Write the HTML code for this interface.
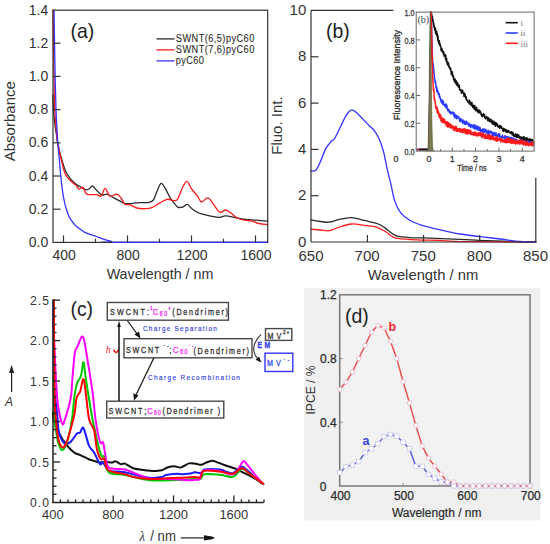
<!DOCTYPE html>
<html><head><meta charset="utf-8"><style>
html,body{margin:0;padding:0;background:#fff;width:550px;height:544px;overflow:hidden}
svg{display:block}
</style></head><body>
<svg width="550" height="544" viewBox="0 0 550 544">
<path d="M52.8,95.0 C52.9,97.5 53.1,105.0 53.5,110.0 C53.9,115.0 54.5,120.8 55.0,125.0 C55.5,129.2 56.0,131.8 56.5,135.0 C57.0,138.2 56.9,139.8 57.8,143.9 C58.7,148.0 60.4,154.8 61.7,159.3 C63.0,163.8 64.1,167.7 65.5,170.9 C66.9,174.1 68.7,176.5 70.3,178.6 C71.9,180.7 73.4,181.9 75.2,183.4 C77.0,184.9 79.1,186.2 81.0,187.3 C82.9,188.4 85.2,189.7 86.7,189.8 C88.2,189.9 89.0,188.7 90.0,188.0 C91.0,187.3 91.7,185.8 92.5,185.9 C93.3,186.0 94.2,187.6 95.0,188.5 C95.8,189.4 96.2,190.1 97.4,191.2 C98.6,192.3 100.6,194.5 102.2,195.0 C103.8,195.5 105.1,193.6 107.0,194.1 C108.9,194.6 111.4,196.6 113.8,197.9 C116.2,199.2 119.6,200.9 121.5,201.8 C123.4,202.8 123.5,203.3 125.0,203.6 C126.5,203.9 128.4,203.8 130.8,203.6 C133.2,203.4 136.6,202.8 139.5,202.6 C142.4,202.4 146.0,203.0 148.3,202.6 C150.6,202.2 152.0,201.9 153.4,200.0 C154.8,198.1 155.7,194.1 157.0,191.3 C158.3,188.5 159.7,183.7 161.1,183.3 C162.5,182.9 164.2,186.7 165.7,189.1 C167.2,191.5 168.6,195.4 170.1,197.8 C171.6,200.2 173.2,202.0 174.5,203.6 C175.8,205.2 176.7,206.8 178.1,207.3 C179.5,207.8 181.7,207.3 183.2,206.8 C184.7,206.3 185.9,204.1 187.3,204.4 C188.8,204.7 190.2,207.4 191.9,208.7 C193.6,210.0 196.2,211.6 197.7,212.4 C199.2,213.2 198.8,213.0 200.8,213.6 C202.8,214.2 206.3,215.2 209.5,215.8 C212.7,216.4 217.0,217.3 219.7,217.3 C222.4,217.3 222.6,215.7 225.5,215.8 C228.4,215.9 233.8,217.4 237.2,218.0 C240.6,218.6 242.8,219.1 245.9,219.5 C249.1,219.9 252.5,219.9 256.1,220.2 C259.7,220.5 265.8,221.0 267.7,221.2" fill="none" stroke="#2a2a2a" stroke-width="1.3" stroke-linejoin="round" stroke-linecap="round" />
<path d="M53.0,10.0 C53.1,16.7 53.3,36.7 53.5,50.0 C53.7,63.3 54.0,79.2 54.2,90.0 C54.5,100.8 54.6,108.0 55.0,115.0 C55.4,122.0 56.0,127.2 56.5,132.0 C57.0,136.8 56.8,138.4 57.8,143.9 C58.8,149.4 61.3,160.0 62.6,165.1 C63.9,170.2 64.0,172.0 65.5,174.7 C67.0,177.4 69.5,179.7 71.3,181.5 C73.1,183.3 74.8,184.1 76.1,185.4 C77.4,186.7 77.9,188.9 79.0,189.2 C80.1,189.5 81.6,186.5 82.9,187.3 C84.2,188.1 84.5,192.9 86.7,194.1 C89.0,195.3 94.0,194.3 96.4,194.6 C98.8,194.9 99.8,197.1 101.2,196.0 C102.7,194.9 103.6,188.3 105.1,188.3 C106.5,188.3 107.8,195.0 109.9,196.0 C112.0,197.0 115.3,193.4 117.6,194.4 C119.8,195.4 122.2,200.1 123.4,201.8 C124.6,203.5 123.8,203.9 125.0,204.4 C126.2,204.9 128.9,204.5 130.8,205.1 C132.7,205.7 134.2,207.4 136.6,208.0 C139.0,208.6 142.7,208.8 145.4,208.7 C148.1,208.6 150.2,208.3 152.6,207.3 C155.0,206.3 157.5,204.2 159.9,202.9 C162.3,201.6 165.0,199.7 167.2,199.3 C169.4,198.9 171.3,200.4 173.0,200.4 C174.7,200.4 175.7,201.7 177.4,199.3 C179.1,196.9 181.5,189.2 183.2,186.2 C184.8,183.2 186.0,181.1 187.3,181.5 C188.6,181.9 189.5,185.9 191.2,188.4 C192.9,190.9 196.0,194.1 197.7,196.4 C199.4,198.7 199.8,201.8 201.5,202.0 C203.2,202.2 206.0,197.4 208.1,197.9 C210.2,198.4 212.0,202.5 213.9,204.9 C215.8,207.3 217.8,211.3 219.7,212.2 C221.6,213.0 223.8,210.0 225.5,210.0 C227.2,210.0 228.0,210.9 229.9,212.2 C231.8,213.5 234.8,216.7 237.2,218.0 C239.6,219.3 242.1,219.7 244.5,220.2 C246.9,220.7 249.3,220.3 251.7,220.9 C254.1,221.5 256.3,222.9 259.0,223.5 C261.7,224.1 266.2,224.3 267.7,224.5" fill="none" stroke="#ff1a1a" stroke-width="1.3" stroke-linejoin="round" stroke-linecap="round" />
<path d="M54.0,10.0 C54.1,15.0 54.3,28.3 54.5,40.0 C54.7,51.7 55.0,68.3 55.2,80.0 C55.5,91.7 55.7,101.7 56.0,110.0 C56.3,118.3 56.7,124.5 57.0,130.0 C57.3,135.5 57.4,138.0 57.8,142.9 C58.2,147.8 58.8,154.0 59.3,159.3 C59.8,164.6 60.2,170.1 60.7,174.7 C61.2,179.3 61.5,183.1 62.0,187.0 C62.5,190.9 62.9,194.4 63.6,197.9 C64.3,201.4 65.0,204.8 66.0,208.0 C67.0,211.2 68.2,214.8 69.4,217.2 C70.6,219.6 71.7,220.9 73.0,222.5 C74.3,224.1 75.1,225.3 77.1,226.9 C79.1,228.5 81.6,230.7 84.8,232.3 C88.0,233.9 93.2,235.3 96.4,236.5 C99.6,237.7 101.5,238.6 104.1,239.4 C106.7,240.2 110.3,241.1 111.8,241.6 C113.3,242.1 87.0,242.3 113.0,242.4 C139.0,242.5 241.9,242.4 267.7,242.4" fill="none" stroke="#3333ff" stroke-width="1.3" stroke-linejoin="round" stroke-linecap="round" />
<rect x="53.0" y="10.2" width="214.7" height="232.20000000000002" fill="none" stroke="#333" stroke-width="1.2"/>
<line x1="113" y1="242.4" x2="267.09999999999997" y2="242.4" stroke="#3333ff" stroke-width="1.3"/>
<line x1="53.0" y1="209.2" x2="60.5" y2="209.2" stroke="#333" stroke-width="1.2"/>
<line x1="53.0" y1="176.0" x2="60.5" y2="176.0" stroke="#333" stroke-width="1.2"/>
<line x1="53.0" y1="142.8" x2="60.5" y2="142.8" stroke="#333" stroke-width="1.2"/>
<line x1="53.0" y1="109.6" x2="60.5" y2="109.6" stroke="#333" stroke-width="1.2"/>
<line x1="53.0" y1="76.4" x2="60.5" y2="76.4" stroke="#333" stroke-width="1.2"/>
<line x1="53.0" y1="43.20000000000002" x2="60.5" y2="43.20000000000002" stroke="#333" stroke-width="1.2"/>
<text x="48.3" y="247.0" font-size="14" text-anchor="end" fill="#333" font-weight="normal" font-style="normal" font-family='"Liberation Sans", sans-serif' >0.0</text>
<text x="48.3" y="213.79999999999998" font-size="14" text-anchor="end" fill="#333" font-weight="normal" font-style="normal" font-family='"Liberation Sans", sans-serif' >0.2</text>
<text x="48.3" y="180.6" font-size="14" text-anchor="end" fill="#333" font-weight="normal" font-style="normal" font-family='"Liberation Sans", sans-serif' >0.4</text>
<text x="48.3" y="147.4" font-size="14" text-anchor="end" fill="#333" font-weight="normal" font-style="normal" font-family='"Liberation Sans", sans-serif' >0.6</text>
<text x="48.3" y="114.19999999999999" font-size="14" text-anchor="end" fill="#333" font-weight="normal" font-style="normal" font-family='"Liberation Sans", sans-serif' >0.8</text>
<text x="48.3" y="81.0" font-size="14" text-anchor="end" fill="#333" font-weight="normal" font-style="normal" font-family='"Liberation Sans", sans-serif' >1.0</text>
<text x="48.3" y="47.80000000000002" font-size="14" text-anchor="end" fill="#333" font-weight="normal" font-style="normal" font-family='"Liberation Sans", sans-serif' >1.2</text>
<text x="48.3" y="14.600000000000028" font-size="14" text-anchor="end" fill="#333" font-weight="normal" font-style="normal" font-family='"Liberation Sans", sans-serif' >1.4</text>
<line x1="63.5" y1="242.4" x2="63.5" y2="235.4" stroke="#333" stroke-width="1.2"/>
<text x="64.1" y="260.2" font-size="14" text-anchor="middle" fill="#333" font-weight="normal" font-style="normal" font-family='"Liberation Sans", sans-serif' >400</text>
<line x1="127.5" y1="242.4" x2="127.5" y2="235.4" stroke="#333" stroke-width="1.2"/>
<text x="128.1" y="260.2" font-size="14" text-anchor="middle" fill="#333" font-weight="normal" font-style="normal" font-family='"Liberation Sans", sans-serif' >800</text>
<line x1="191.5" y1="242.4" x2="191.5" y2="235.4" stroke="#333" stroke-width="1.2"/>
<text x="192.1" y="260.2" font-size="14" text-anchor="middle" fill="#333" font-weight="normal" font-style="normal" font-family='"Liberation Sans", sans-serif' >1200</text>
<line x1="255.5" y1="242.4" x2="255.5" y2="235.4" stroke="#333" stroke-width="1.2"/>
<text x="256.1" y="260.2" font-size="14" text-anchor="middle" fill="#333" font-weight="normal" font-style="normal" font-family='"Liberation Sans", sans-serif' >1600</text>
<line x1="95.5" y1="242.4" x2="95.5" y2="238.70000000000002" stroke="#333" stroke-width="1.2"/>
<line x1="159.5" y1="242.4" x2="159.5" y2="238.70000000000002" stroke="#333" stroke-width="1.2"/>
<line x1="223.5" y1="242.4" x2="223.5" y2="238.70000000000002" stroke="#333" stroke-width="1.2"/>
<text x="160" y="278.5" font-size="14.3" text-anchor="middle" fill="#333" font-weight="normal" font-style="normal" font-family='"Liberation Sans", sans-serif' >Wavelength / nm</text>
<text x="0" y="0" font-size="15" text-anchor="middle" fill="#333" font-weight="normal" font-style="normal" font-family='"Liberation Sans", sans-serif' transform="translate(15,121.2) rotate(-90)">Absorbance</text>
<text transform="translate(70.4,38.4) scale(0.95,1)" x="0" y="0" font-size="20.5" font-family='"Liberation Sans", sans-serif' fill="#222">(a)</text>
<line x1="156.5" y1="38.9" x2="174.5" y2="38.9" stroke="#2a2a2a" stroke-width="1.3"/>
<line x1="156.5" y1="49.9" x2="174.5" y2="49.9" stroke="#ff1a1a" stroke-width="1.3"/>
<line x1="156.5" y1="60.9" x2="174.5" y2="60.9" stroke="#3333ff" stroke-width="1.3"/>
<path d="M310.7,219.7 C312.3,220.0 317.3,221.1 320.4,221.5 C323.5,221.9 326.4,222.5 329.4,222.2 C332.4,221.9 334.9,220.5 338.5,219.7 C342.1,218.9 347.0,217.5 351.3,217.6 C355.6,217.7 359.9,219.4 364.2,220.4 C368.5,221.4 373.7,222.3 377.1,223.5 C380.5,224.7 381.9,225.8 384.4,227.4 C386.8,229.0 389.6,231.7 391.8,233.2 C394.0,234.7 394.7,235.5 397.6,236.2 C400.5,236.9 405.0,237.3 409.4,237.6 C413.8,237.9 416.8,237.7 424.1,237.9 C431.5,238.2 444.2,238.7 453.5,239.1 C462.8,239.5 470.6,239.9 480.0,240.3 C489.4,240.7 500.7,241.2 510.0,241.5 C519.3,241.8 531.5,241.9 535.8,242.0" fill="none" stroke="#2a2a2a" stroke-width="1.3" stroke-linejoin="round" stroke-linecap="round" />
<path d="M310.7,229.2 C312.3,229.3 317.3,229.8 320.4,230.0 C323.5,230.2 326.4,231.1 329.4,230.7 C332.4,230.3 334.9,228.5 338.5,227.4 C342.1,226.3 347.0,224.3 351.3,224.0 C355.6,223.7 359.9,224.7 364.2,225.3 C368.5,225.9 373.5,226.3 377.1,227.4 C380.7,228.5 383.4,230.3 385.9,231.8 C388.3,233.3 389.9,235.1 391.8,236.2 C393.8,237.3 393.4,237.8 397.6,238.4 C401.8,239.0 409.9,239.6 416.8,239.9 C423.7,240.2 432.7,240.1 438.8,240.3 C444.9,240.5 446.6,241.1 453.5,241.3 C460.4,241.5 466.3,241.5 480.0,241.6 C493.7,241.7 526.5,241.9 535.8,242.0" fill="none" stroke="#ff1a1a" stroke-width="1.3" stroke-linejoin="round" stroke-linecap="round" />
<path d="M310.7,170.8 C311.6,170.7 314.2,171.8 315.8,170.3 C317.4,168.8 318.8,165.4 320.4,161.8 C322.0,158.2 324.1,151.9 325.6,148.9 C327.1,145.9 328.3,145.1 329.4,143.7 C330.5,142.3 331.1,141.2 332.0,140.4 C332.9,139.6 333.1,141.0 334.6,138.6 C336.1,136.2 339.1,129.6 341.0,125.7 C342.9,121.8 344.6,118.0 346.2,115.4 C347.8,112.8 349.3,110.9 350.8,110.3 C352.3,109.7 352.1,109.0 355.2,111.6 C358.3,114.2 366.1,122.5 369.3,125.7 C372.5,128.9 372.8,128.5 374.5,130.9 C376.2,133.3 378.1,136.5 379.6,139.9 C381.1,143.3 382.2,146.6 383.5,151.5 C384.8,156.4 386.1,164.0 387.3,169.5 C388.6,175.0 389.8,179.5 391.0,184.7 C392.2,189.9 393.1,196.2 394.7,200.9 C396.3,205.6 398.2,209.4 400.6,212.6 C403.1,215.8 406.0,217.9 409.4,220.0 C412.8,222.1 416.8,223.6 421.2,225.1 C425.6,226.6 431.2,227.7 435.9,228.8 C440.5,229.9 445.1,230.9 449.1,231.8 C453.1,232.7 454.6,233.2 460.0,234.0 C465.4,234.8 475.1,236.0 481.8,236.8 C488.5,237.6 493.6,238.2 500.0,239.0 C506.4,239.8 514.0,241.0 520.0,241.5 C526.0,242.0 533.2,241.9 535.8,242.0" fill="none" stroke="#3333ff" stroke-width="1.3" stroke-linejoin="round" stroke-linecap="round" />
<line x1="311.0" y1="10.3" x2="393.6" y2="10.3" stroke="#333" stroke-width="1.2"/>
<line x1="311.0" y1="10.3" x2="311.0" y2="242.0" stroke="#333" stroke-width="1.2"/>
<line x1="311.0" y1="242.0" x2="535.8" y2="242.0" stroke="#333" stroke-width="1.2"/>
<line x1="535.8" y1="177.5" x2="535.8" y2="242.0" stroke="#333" stroke-width="1.2"/>
<line x1="311.0" y1="195.7" x2="318.5" y2="195.7" stroke="#333" stroke-width="1.2"/>
<line x1="311.0" y1="149.4" x2="318.5" y2="149.4" stroke="#333" stroke-width="1.2"/>
<line x1="311.0" y1="103.10000000000002" x2="318.5" y2="103.10000000000002" stroke="#333" stroke-width="1.2"/>
<line x1="311.0" y1="56.80000000000001" x2="318.5" y2="56.80000000000001" stroke="#333" stroke-width="1.2"/>
<text x="306.3" y="246.6" font-size="15" text-anchor="end" fill="#333" font-weight="normal" font-style="normal" font-family='"Liberation Sans", sans-serif' >0</text>
<text x="306.3" y="200.29999999999998" font-size="15" text-anchor="end" fill="#333" font-weight="normal" font-style="normal" font-family='"Liberation Sans", sans-serif' >2</text>
<text x="306.3" y="154.0" font-size="15" text-anchor="end" fill="#333" font-weight="normal" font-style="normal" font-family='"Liberation Sans", sans-serif' >4</text>
<text x="306.3" y="107.70000000000002" font-size="15" text-anchor="end" fill="#333" font-weight="normal" font-style="normal" font-family='"Liberation Sans", sans-serif' >6</text>
<text x="306.3" y="61.40000000000001" font-size="15" text-anchor="end" fill="#333" font-weight="normal" font-style="normal" font-family='"Liberation Sans", sans-serif' >8</text>
<text x="306.3" y="15.1" font-size="15" text-anchor="end" fill="#333" font-weight="normal" font-style="normal" font-family='"Liberation Sans", sans-serif' >10</text>
<line x1="367.425" y1="242.0" x2="367.425" y2="235.0" stroke="#333" stroke-width="1.2"/>
<line x1="423.55" y1="242.0" x2="423.55" y2="235.0" stroke="#333" stroke-width="1.2"/>
<line x1="479.675" y1="242.0" x2="479.675" y2="235.0" stroke="#333" stroke-width="1.2"/>
<text x="311.0" y="260.7" font-size="15" text-anchor="middle" fill="#333" font-weight="normal" font-style="normal" font-family='"Liberation Sans", sans-serif' >650</text>
<text x="367.125" y="260.7" font-size="15" text-anchor="middle" fill="#333" font-weight="normal" font-style="normal" font-family='"Liberation Sans", sans-serif' >700</text>
<text x="423.25" y="260.7" font-size="15" text-anchor="middle" fill="#333" font-weight="normal" font-style="normal" font-family='"Liberation Sans", sans-serif' >750</text>
<text x="479.375" y="260.7" font-size="15" text-anchor="middle" fill="#333" font-weight="normal" font-style="normal" font-family='"Liberation Sans", sans-serif' >800</text>
<text x="535.5" y="260.7" font-size="15" text-anchor="middle" fill="#333" font-weight="normal" font-style="normal" font-family='"Liberation Sans", sans-serif' >850</text>
<text x="423.1" y="280.2" font-size="14.8" text-anchor="middle" fill="#333" font-weight="normal" font-style="normal" font-family='"Liberation Sans", sans-serif' >Wavelength / nm</text>
<text x="0" y="0" font-size="15" text-anchor="middle" fill="#333" font-weight="normal" font-style="normal" font-family='"Liberation Sans", sans-serif' transform="translate(282,125.6) rotate(-90)">Fluo. Int.</text>
<text transform="translate(326,38.4) scale(0.95,1)" x="0" y="0" font-size="20.5" font-family='"Liberation Sans", sans-serif' fill="#222">(b)</text>
<rect x="393.6" y="0" width="157" height="177.5" fill="#fff"/>
<clipPath id="ic"><rect x="416.2" y="10" width="118" height="141.5"/></clipPath>
<g clip-path="url(#ic)">
<polyline points="417.2,149.4 417.5,149.4 417.8,149.4 418.1,149.4 418.3,149.4 418.6,149.4 418.9,149.4 419.2,149.4 419.5,149.4 419.7,149.4 420.0,149.4 420.3,149.4 420.6,149.4 420.9,149.4 421.1,149.4 421.4,149.4 421.7,149.4 422.0,149.4 422.3,149.4 422.5,149.4 422.8,149.4 423.1,149.4 423.4,149.4 423.7,149.4 423.9,149.4 424.2,149.4 424.5,149.4 424.8,149.4 425.1,149.4 425.4,149.4 425.6,149.4 425.9,149.4 426.2,149.4 426.5,149.4 426.8,149.4 427.0,149.4 427.3,149.4 427.6,149.4 427.9,149.4 428.2,149.4 428.4,149.4 428.7,149.4 429.0,143.9 429.3,127.5 429.6,111.0 429.8,94.5 430.1,78.0 430.4,61.5 430.7,45.1 431.0,28.6 431.2,12.1 431.5,13.4 431.8,15.8 432.1,18.2 432.4,16.2 432.6,21.2 432.9,19.4 433.2,21.7 433.5,24.9 433.8,23.2 434.0,27.3 434.3,26.0 434.6,29.4 434.9,30.4 435.2,29.5 435.4,28.1 435.7,33.6 436.0,34.0 436.3,32.4 436.6,31.3 436.8,34.5 437.1,36.4 437.4,33.8 437.7,40.3 438.0,36.2 438.2,40.5 438.5,42.2 438.8,43.2 439.1,42.9 439.4,40.7 439.6,45.3 439.9,43.7 440.2,44.2 440.5,46.5 440.8,46.3 441.0,49.9 441.3,50.7 441.6,50.6 441.9,48.5 442.2,50.6 442.4,51.9 442.7,51.0 443.0,52.4 443.3,53.9 443.6,51.7 443.8,52.9 444.1,56.1 444.4,54.8 444.7,55.7 445.0,54.4 445.2,55.8 445.5,58.9 445.8,55.6 446.1,61.0 446.4,59.9 446.6,58.6 446.9,62.7 447.2,61.7 447.5,64.9 447.8,62.2 448.0,62.4 448.3,64.2 448.6,63.3 448.9,67.1 449.2,65.8 449.4,67.0 449.7,67.8 450.0,69.2 450.3,67.9 450.6,68.0 450.8,71.2 451.1,70.8 451.4,74.7 451.7,72.0 452.0,72.9 452.2,71.7 452.5,73.3 452.8,76.7 453.1,76.8 453.4,75.9 453.7,79.9 453.9,78.2 454.2,80.3 454.5,81.2 454.8,82.1 455.1,79.1 455.3,82.9 455.6,82.9 455.9,82.7 456.2,80.7 456.5,85.1 456.7,83.7 457.0,83.7 457.3,82.5 457.6,83.3 457.9,83.5 458.1,86.8 458.4,86.6 458.7,87.3 459.0,85.2 459.3,85.2 459.5,89.6 459.8,89.9 460.1,90.0 460.4,90.4 460.7,89.6 460.9,89.5 461.2,91.5 461.5,93.2 461.8,91.6 462.1,92.2 462.3,91.7 462.6,90.2 462.9,91.9 463.2,93.1 463.5,93.0 463.7,93.1 464.0,96.5 464.3,92.9 464.6,93.9 464.9,93.8 465.1,94.6 465.4,96.9 465.7,97.2 466.0,99.0 466.3,96.9 466.5,100.0 466.8,100.3 467.1,100.0 467.4,100.6 467.7,100.2 467.9,101.9 468.2,102.5 468.5,102.1 468.8,102.7 469.1,101.9 469.3,103.8 469.6,100.3 469.9,101.8 470.2,104.2 470.5,104.1 470.7,104.0 471.0,104.2 471.3,105.6 471.6,102.7 471.9,102.4 472.1,105.0 472.4,105.2 472.7,107.3 473.0,107.5 473.3,106.8 473.5,107.4 473.8,105.2 474.1,108.4 474.4,109.3 474.7,105.6 474.9,107.7 475.2,109.7 475.5,108.2 475.8,110.7 476.1,108.8 476.3,107.2 476.6,107.9 476.9,108.9 477.2,111.1 477.5,110.9 477.7,112.0 478.0,109.7 478.3,111.0 478.6,110.2 478.9,112.4 479.1,113.1 479.4,110.9 479.7,110.4 480.0,111.2 480.3,111.6 480.6,111.8 480.8,112.4 481.1,114.8 481.4,113.8 481.7,114.8 482.0,116.4 482.2,116.6 482.5,115.8 482.8,116.1 483.1,114.5 483.4,113.7 483.6,116.0 483.9,114.2 484.2,114.2 484.5,114.6 484.8,117.3 485.0,118.1 485.3,118.3 485.6,118.6 485.9,118.8 486.2,117.3 486.4,116.4 486.7,116.8 487.0,118.5 487.3,118.0 487.6,117.6 487.8,120.8 488.1,118.6 488.4,117.8 488.7,118.5 489.0,118.9 489.2,120.2 489.5,121.6 489.8,119.3 490.1,121.4 490.4,119.7 490.6,119.2 490.9,121.7 491.2,121.9 491.5,119.9 491.8,121.0 492.0,123.4 492.3,123.7 492.6,123.8 492.9,121.0 493.2,121.6 493.4,124.4 493.7,121.9 494.0,121.4 494.3,122.9 494.6,124.3 494.8,123.7 495.1,125.5 495.4,126.2 495.7,122.5 496.0,124.0 496.2,124.6 496.5,123.2 496.8,125.4 497.1,123.8 497.4,124.1 497.6,126.7 497.9,126.7 498.2,126.7 498.5,127.1 498.8,125.9 499.0,127.4 499.3,126.9 499.6,128.2 499.9,125.4 500.2,127.7 500.4,127.5 500.7,127.2 501.0,126.1 501.3,128.2 501.6,126.4 501.8,128.2 502.1,128.3 502.4,128.5 502.7,130.6 503.0,129.2 503.2,130.3 503.5,131.2 503.8,128.3 504.1,130.9 504.4,129.9 504.6,129.1 504.9,129.9 505.2,130.9 505.5,130.3 505.8,130.4 506.0,129.6 506.3,132.4 506.6,130.8 506.9,132.1 507.2,132.2 507.4,130.5 507.7,131.6 508.0,131.6 508.3,130.9 508.6,130.5 508.9,132.4 509.1,131.9 509.4,132.5 509.7,132.6 510.0,132.1 510.3,133.1 510.5,132.9 510.8,133.3 511.1,131.7 511.4,132.7 511.7,132.2 511.9,132.1 512.2,134.8 512.5,133.8 512.8,132.5 513.1,133.0 513.3,135.8 513.6,135.9 513.9,134.9 514.2,136.4 514.5,135.9 514.7,136.6 515.0,134.5 515.3,134.2 515.6,133.9 515.9,136.8 516.1,134.8 516.4,135.2 516.7,137.2 517.0,134.6 517.3,134.4 517.5,137.3 517.8,134.7 518.1,136.8 518.4,136.6 518.7,134.9 518.9,135.6 519.2,138.1 519.5,137.2 519.8,137.0 520.1,137.8 520.3,138.4 520.6,138.1 520.9,136.7 521.2,139.4 521.5,137.5 521.7,138.0 522.0,139.7 522.3,138.6 522.6,137.7 522.9,138.2 523.1,139.9 523.4,136.6 523.7,137.5 524.0,136.9 524.3,140.1 524.5,139.6 524.8,140.5 525.1,138.0 525.4,139.9 525.7,140.5 525.9,139.5 526.2,137.8 526.5,138.2 526.8,140.4 527.1,140.8 527.3,138.1 527.6,139.5 527.9,139.1 528.2,141.4 528.5,141.6 528.7,139.4 529.0,140.4 529.3,141.8 529.6,138.7 529.9,139.9 530.1,139.4 530.4,142.0 530.7,139.4 531.0,142.3 531.3,139.5 531.5,141.0 531.8,141.5 532.1,140.8 532.4,139.6 532.7,142.0 532.9,142.6 533.2,141.2 533.5,142.3 533.8,142.8" fill="none" stroke="#111" stroke-width="1.5" stroke-linejoin="round" stroke-linecap="round" />
<polyline points="417.2,149.4 417.5,149.4 417.8,149.4 418.1,149.4 418.3,149.4 418.6,149.4 418.9,149.4 419.2,149.4 419.5,149.4 419.7,149.4 420.0,149.4 420.3,149.4 420.6,149.4 420.9,149.4 421.1,149.4 421.4,149.4 421.7,149.4 422.0,149.4 422.3,149.4 422.5,149.4 422.8,149.4 423.1,149.4 423.4,149.4 423.7,149.4 423.9,149.4 424.2,149.4 424.5,149.4 424.8,149.4 425.1,149.4 425.4,149.4 425.6,149.4 425.9,149.4 426.2,149.4 426.5,149.4 426.8,149.4 427.0,149.4 427.3,149.4 427.6,149.4 427.9,149.4 428.2,149.4 428.4,149.4 428.7,149.4 429.0,143.9 429.3,127.5 429.6,111.0 429.8,94.5 430.1,78.0 430.4,61.5 430.7,45.1 431.0,28.6 431.2,12.1 431.5,23.4 431.8,36.1 432.1,46.2 432.4,54.0 432.6,61.3 432.9,63.8 433.2,63.6 433.5,68.6 433.8,69.7 434.0,73.7 434.3,74.9 434.6,78.9 434.9,79.6 435.2,82.9 435.4,80.9 435.7,83.8 436.0,87.5 436.3,87.8 436.6,86.6 436.8,91.7 437.1,88.8 437.4,91.6 437.7,92.1 438.0,91.1 438.2,94.2 438.5,94.3 438.8,94.2 439.1,93.4 439.4,97.4 439.6,95.6 439.9,96.7 440.2,97.5 440.5,99.2 440.8,99.9 441.0,101.8 441.3,101.8 441.6,102.6 441.9,99.7 442.2,102.5 442.4,103.4 442.7,104.2 443.0,100.9 443.3,101.1 443.6,102.5 443.8,104.7 444.1,105.3 444.4,105.4 444.7,104.9 445.0,106.7 445.2,105.7 445.5,106.9 445.8,103.9 446.1,104.2 446.4,106.6 446.6,108.4 446.9,105.3 447.2,108.7 447.5,108.8 447.8,110.8 448.0,109.3 448.3,109.2 448.6,109.4 448.9,111.1 449.2,110.0 449.4,112.7 449.7,111.7 450.0,112.8 450.3,111.7 450.6,113.6 450.8,114.0 451.1,113.0 451.4,113.6 451.7,112.2 452.0,112.8 452.2,112.0 452.5,112.7 452.8,112.8 453.1,112.3 453.4,114.8 453.7,115.3 453.9,112.6 454.2,116.7 454.5,114.3 454.8,114.9 455.1,117.9 455.3,114.6 455.6,114.6 455.9,116.0 456.2,115.7 456.5,115.6 456.7,118.8 457.0,117.3 457.3,117.6 457.6,116.3 457.9,116.6 458.1,116.7 458.4,118.0 458.7,116.8 459.0,117.9 459.3,118.1 459.5,120.3 459.8,121.4 460.1,121.1 460.4,120.3 460.7,121.6 460.9,118.6 461.2,120.0 461.5,119.8 461.8,120.0 462.1,120.0 462.3,121.0 462.6,123.3 462.9,120.0 463.2,120.4 463.5,121.6 463.7,121.6 464.0,121.2 464.3,124.0 464.6,121.2 464.9,123.5 465.1,124.4 465.4,123.7 465.7,121.8 466.0,124.2 466.3,122.1 466.5,121.2 466.8,123.4 467.1,124.0 467.4,123.8 467.7,123.0 467.9,122.8 468.2,123.6 468.5,123.6 468.8,126.2 469.1,126.0 469.3,125.7 469.6,123.7 469.9,125.7 470.2,124.7 470.5,127.2 470.7,127.2 471.0,126.4 471.3,124.8 471.6,124.9 471.9,125.1 472.1,126.8 472.4,126.0 472.7,126.3 473.0,126.5 473.3,128.1 473.5,124.9 473.8,128.0 474.1,124.8 474.4,125.1 474.7,129.1 474.9,127.4 475.2,126.0 475.5,125.5 475.8,127.8 476.1,128.6 476.3,129.0 476.6,126.0 476.9,129.2 477.2,127.8 477.5,129.8 477.7,128.3 478.0,126.6 478.3,130.1 478.6,127.4 478.9,128.8 479.1,127.3 479.4,128.2 479.7,130.3 480.0,127.6 480.3,129.4 480.6,131.5 480.8,131.7 481.1,129.7 481.4,130.0 481.7,130.7 482.0,131.5 482.2,130.8 482.5,131.0 482.8,128.9 483.1,132.5 483.4,129.5 483.6,129.2 483.9,132.3 484.2,129.1 484.5,130.1 484.8,129.4 485.0,132.0 485.3,131.8 485.6,131.8 485.9,129.4 486.2,131.2 486.4,132.2 486.7,132.0 487.0,132.7 487.3,133.8 487.6,133.7 487.8,130.7 488.1,133.1 488.4,130.5 488.7,133.4 489.0,133.4 489.2,132.5 489.5,133.9 489.8,133.3 490.1,131.0 490.4,131.4 490.6,131.8 490.9,132.6 491.2,131.5 491.5,131.5 491.8,133.2 492.0,132.6 492.3,135.4 492.6,132.7 492.9,133.9 493.2,132.8 493.4,133.3 493.7,134.9 494.0,135.9 494.3,132.4 494.6,135.8 494.8,134.5 495.1,135.1 495.4,135.3 495.7,133.6 496.0,132.8 496.2,135.7 496.5,134.2 496.8,135.7 497.1,134.8 497.4,135.5 497.6,136.5 497.9,136.6 498.2,136.5 498.5,133.8 498.8,135.5 499.0,136.7 499.3,134.0 499.6,133.8 499.9,136.1 500.2,137.4 500.4,137.3 500.7,137.8 501.0,136.9 501.3,138.0 501.6,137.5 501.8,137.5 502.1,136.3 502.4,135.2 502.7,135.8 503.0,137.2 503.2,137.3 503.5,137.0 503.8,137.6 504.1,137.9 504.4,139.1 504.6,138.3 504.9,135.6 505.2,139.1 505.5,137.7 505.8,137.2 506.0,136.4 506.3,139.1 506.6,138.9 506.9,139.1 507.2,138.6 507.4,138.5 507.7,136.5 508.0,137.0 508.3,137.0 508.6,140.5 508.9,140.5 509.1,137.9 509.4,137.3 509.7,139.0 510.0,138.6 510.3,141.0 510.5,139.5 510.8,137.5 511.1,138.0 511.4,138.0 511.7,137.6 511.9,140.5 512.2,141.1 512.5,141.0 512.8,139.6 513.1,139.1 513.3,138.1 513.6,139.1 513.9,139.4 514.2,139.0 514.5,140.3 514.7,140.0 515.0,142.1 515.3,139.2 515.6,141.5 515.9,138.9 516.1,140.0 516.4,141.4 516.7,142.1 517.0,141.7 517.3,140.3 517.5,140.1 517.8,142.4 518.1,142.7 518.4,141.0 518.7,140.8 518.9,141.6 519.2,142.3 519.5,140.9 519.8,143.3 520.1,142.2 520.3,141.7 520.6,139.8 520.9,141.1 521.2,140.2 521.5,141.8 521.7,142.8 522.0,142.8 522.3,140.2 522.6,141.2 522.9,142.8 523.1,143.9 523.4,142.1 523.7,141.5 524.0,142.5 524.3,143.2 524.5,141.7 524.8,140.7 525.1,143.5 525.4,144.3 525.7,143.1 525.9,142.9 526.2,141.9 526.5,143.8 526.8,141.6 527.1,141.8 527.3,142.8 527.6,144.0 527.9,141.1 528.2,143.7 528.5,141.8 528.7,144.1 529.0,144.1 529.3,142.1 529.6,143.9 529.9,141.5 530.1,143.3 530.4,144.5 530.7,144.4 531.0,143.7 531.3,142.8 531.5,141.8 531.8,144.9 532.1,144.0 532.4,144.7 532.7,141.8 532.9,145.0 533.2,145.4 533.5,145.4 533.8,144.2" fill="none" stroke="#2a3aff" stroke-width="1.5" stroke-linejoin="round" stroke-linecap="round" />
<polyline points="417.2,149.4 417.5,149.4 417.8,149.4 418.1,149.4 418.3,149.4 418.6,149.4 418.9,149.4 419.2,149.4 419.5,149.4 419.7,149.4 420.0,149.4 420.3,149.4 420.6,149.4 420.9,149.4 421.1,149.4 421.4,149.4 421.7,149.4 422.0,149.4 422.3,149.4 422.5,149.4 422.8,149.4 423.1,149.4 423.4,149.4 423.7,149.4 423.9,149.4 424.2,149.4 424.5,149.4 424.8,149.4 425.1,149.4 425.4,149.4 425.6,149.4 425.9,149.4 426.2,149.4 426.5,149.4 426.8,149.4 427.0,149.4 427.3,149.4 427.6,149.4 427.9,149.4 428.2,149.4 428.4,149.4 428.7,149.4 429.0,143.9 429.3,127.5 429.6,111.0 429.8,94.5 430.1,78.0 430.4,61.5 430.7,45.1 431.0,28.6 431.2,12.1 431.5,29.3 431.8,41.2 432.1,54.7 432.4,67.5 432.6,75.9 432.9,79.7 433.2,86.8 433.5,90.7 433.8,88.8 434.0,92.7 434.3,99.8 434.6,98.0 434.9,101.2 435.2,102.6 435.4,104.2 435.7,106.4 436.0,108.6 436.3,108.2 436.6,109.0 436.8,106.7 437.1,112.5 437.4,108.3 437.7,113.3 438.0,113.0 438.2,111.0 438.5,111.6 438.8,114.3 439.1,117.1 439.4,115.2 439.6,116.4 439.9,113.9 440.2,118.4 440.5,118.0 440.8,115.6 441.0,120.9 441.3,119.3 441.6,117.5 441.9,118.0 442.2,122.2 442.4,122.5 442.7,122.6 443.0,118.2 443.3,122.1 443.6,119.7 443.8,119.1 444.1,122.4 444.4,123.0 444.7,119.5 445.0,121.6 445.2,123.8 445.5,121.6 445.8,123.9 446.1,124.4 446.4,126.1 446.6,122.3 446.9,121.7 447.2,123.4 447.5,122.0 447.8,127.1 448.0,126.2 448.3,125.1 448.6,122.8 448.9,123.0 449.2,126.2 449.4,127.1 449.7,126.3 450.0,126.1 450.3,124.0 450.6,128.0 450.8,124.9 451.1,125.4 451.4,125.1 451.7,125.5 452.0,126.5 452.2,128.1 452.5,128.3 452.8,128.2 453.1,126.1 453.4,129.9 453.7,129.4 453.9,126.7 454.2,129.4 454.5,130.5 454.8,130.8 455.1,128.2 455.3,129.5 455.6,126.3 455.9,126.9 456.2,126.5 456.5,130.4 456.7,131.4 457.0,131.5 457.3,129.5 457.6,128.6 457.9,130.0 458.1,131.3 458.4,130.4 458.7,129.4 459.0,129.2 459.3,128.9 459.5,128.5 459.8,129.5 460.1,132.3 460.4,128.7 460.7,131.5 460.9,130.2 461.2,131.2 461.5,129.4 461.8,132.3 462.1,132.1 462.3,132.1 462.6,132.7 462.9,129.0 463.2,130.6 463.5,132.0 463.7,131.7 464.0,128.7 464.3,131.2 464.6,132.7 464.9,129.8 465.1,130.6 465.4,129.0 465.7,133.6 466.0,131.7 466.3,130.0 466.5,130.0 466.8,129.7 467.1,134.1 467.4,132.9 467.7,133.9 467.9,133.6 468.2,129.6 468.5,131.7 468.8,130.0 469.1,132.9 469.3,130.4 469.6,132.6 469.9,133.6 470.2,131.0 470.5,130.2 470.7,134.5 471.0,132.1 471.3,132.0 471.6,134.1 471.9,133.4 472.1,134.6 472.4,134.3 472.7,134.1 473.0,132.5 473.3,132.3 473.5,134.6 473.8,135.6 474.1,134.0 474.4,132.3 474.7,134.9 474.9,134.3 475.2,134.9 475.5,131.9 475.8,133.3 476.1,135.8 476.3,135.7 476.6,134.3 476.9,133.6 477.2,133.2 477.5,136.0 477.7,135.8 478.0,133.2 478.3,134.7 478.6,135.4 478.9,135.4 479.1,132.2 479.4,135.5 479.7,134.3 480.0,135.4 480.3,135.2 480.6,133.1 480.8,132.5 481.1,135.7 481.4,136.6 481.7,134.1 482.0,136.7 482.2,137.8 482.5,133.4 482.8,135.9 483.1,134.0 483.4,136.1 483.6,133.8 483.9,136.0 484.2,137.5 484.5,138.3 484.8,135.8 485.0,135.4 485.3,134.1 485.6,138.3 485.9,135.7 486.2,137.0 486.4,136.4 486.7,138.3 487.0,137.7 487.3,136.6 487.6,134.6 487.8,138.7 488.1,136.9 488.4,135.4 488.7,134.7 489.0,138.6 489.2,139.0 489.5,135.0 489.8,134.9 490.1,137.4 490.4,139.6 490.6,135.4 490.9,138.1 491.2,135.6 491.5,137.1 491.8,136.1 492.0,139.4 492.3,136.5 492.6,139.3 492.9,138.4 493.2,136.4 493.4,136.5 493.7,139.7 494.0,139.6 494.3,138.8 494.6,138.3 494.8,139.0 495.1,140.3 495.4,139.8 495.7,137.5 496.0,136.7 496.2,140.9 496.5,138.5 496.8,137.6 497.1,141.1 497.4,137.3 497.6,140.9 497.9,138.6 498.2,138.9 498.5,138.6 498.8,140.2 499.0,139.7 499.3,139.0 499.6,139.8 499.9,138.7 500.2,139.8 500.4,139.8 500.7,141.9 501.0,139.1 501.3,139.7 501.6,141.0 501.8,138.5 502.1,138.5 502.4,140.1 502.7,141.5 503.0,140.1 503.2,141.9 503.5,141.8 503.8,140.4 504.1,142.1 504.4,140.5 504.6,140.2 504.9,142.5 505.2,139.7 505.5,142.4 505.8,139.3 506.0,139.1 506.3,140.5 506.6,142.7 506.9,140.6 507.2,141.2 507.4,138.5 507.7,142.5 508.0,139.1 508.3,138.5 508.6,139.8 508.9,139.4 509.1,142.4 509.4,138.7 509.7,141.1 510.0,138.9 510.3,139.1 510.5,142.8 510.8,139.8 511.1,139.2 511.4,143.4 511.7,142.0 511.9,140.1 512.2,143.0 512.5,139.6 512.8,142.6 513.1,140.0 513.3,143.3 513.6,141.6 513.9,139.7 514.2,143.1 514.5,142.9 514.7,141.7 515.0,142.7 515.3,144.0 515.6,143.4 515.9,143.5 516.1,139.9 516.4,141.1 516.7,140.2 517.0,143.6 517.3,140.8 517.5,144.0 517.8,142.0 518.1,141.6 518.4,142.9 518.7,140.5 518.9,142.1 519.2,142.0 519.5,140.6 519.8,144.3 520.1,140.1 520.3,141.9 520.6,143.0 520.9,141.2 521.2,143.7 521.5,140.3 521.7,142.3 522.0,143.4 522.3,141.5 522.6,143.1 522.9,144.3 523.1,141.7 523.4,145.0 523.7,141.4 524.0,144.1 524.3,142.3 524.5,140.7 524.8,142.6 525.1,142.3 525.4,144.0 525.7,145.5 525.9,145.3 526.2,144.8 526.5,142.7 526.8,143.6 527.1,143.2 527.3,141.4 527.6,145.0 527.9,144.6 528.2,142.7 528.5,145.6 528.7,145.8 529.0,144.1 529.3,145.3 529.6,144.2 529.9,144.8 530.1,143.2 530.4,143.2 530.7,145.0 531.0,143.1 531.3,143.8 531.5,145.4 531.8,141.7 532.1,145.0 532.4,145.4 532.7,145.7 532.9,143.2 533.2,142.1 533.5,142.6 533.8,144.4" fill="none" stroke="#ff1a1a" stroke-width="1.5" stroke-linejoin="round" stroke-linecap="round" />
<line x1="419" y1="149.432" x2="428.5" y2="149.432" stroke="#111" stroke-width="1.5"/>
<polygon points="425.6,151.1 425.7,151.1 425.9,151.1 426.0,151.1 426.1,151.1 426.2,151.1 426.3,151.1 426.4,151.1 426.6,151.1 426.7,151.1 426.8,151.0 426.9,151.0 427.0,150.9 427.1,150.8 427.3,150.6 427.4,150.3 427.5,149.9 427.6,149.3 427.7,148.6 427.8,147.5 428.0,146.0 428.1,144.1 428.2,141.5 428.3,138.3 428.4,134.3 428.5,129.5 428.7,123.6 428.8,116.7 428.9,108.8 429.0,100.0 429.1,90.3 429.3,79.9 429.4,69.2 429.5,58.4 429.6,47.9 429.7,38.0 429.8,29.3 430.0,22.1 430.1,16.6 430.2,13.2 430.3,12.1 430.4,13.2 430.5,16.6 430.7,22.1 430.8,29.3 430.9,38.0 431.0,47.9 431.1,58.4 431.2,69.2 431.4,79.9 431.5,90.3 431.6,100.0 431.7,108.8 431.8,116.7 431.9,123.6 432.1,129.5 432.2,134.3 432.3,138.3 432.4,141.5 432.5,144.1 432.6,146.0 432.8,147.5 432.9,148.6 433.0,149.3 433.1,149.9 433.2,150.3 433.3,150.6 433.5,150.8 433.6,150.9 433.7,151.0 433.8,151.0 433.9,151.1 434.0,151.1 434.2,151.1 434.3,151.1 434.4,151.1 434.5,151.1 434.6,151.1 434.7,151.1 434.9,151.1 435.0,151.1" fill="#7a7a50" stroke="#555530" stroke-width="0.6"/>
</g>
<rect x="416.2" y="12.1" width="117.90000000000003" height="139.0" fill="none" stroke="#666" stroke-width="1"/>
<line x1="416.2" y1="123.3" x2="420.2" y2="123.3" stroke="#666" stroke-width="1"/>
<line x1="416.2" y1="95.5" x2="420.2" y2="95.5" stroke="#666" stroke-width="1"/>
<line x1="416.2" y1="67.7" x2="420.2" y2="67.7" stroke="#666" stroke-width="1"/>
<line x1="416.2" y1="39.89999999999999" x2="420.2" y2="39.89999999999999" stroke="#666" stroke-width="1"/>
<text x="414.5" y="154.7" font-size="9" text-anchor="end" fill="#3a3a3a" font-weight="normal" font-style="normal" font-family='"Liberation Sans", sans-serif' stroke="#3a3a3a" stroke-width="0.3" textLength="10" lengthAdjust="spacingAndGlyphs">0.0</text>
<text x="414.5" y="126.89999999999999" font-size="9" text-anchor="end" fill="#3a3a3a" font-weight="normal" font-style="normal" font-family='"Liberation Sans", sans-serif' stroke="#3a3a3a" stroke-width="0.3" textLength="10" lengthAdjust="spacingAndGlyphs">0.2</text>
<text x="414.5" y="99.1" font-size="9" text-anchor="end" fill="#3a3a3a" font-weight="normal" font-style="normal" font-family='"Liberation Sans", sans-serif' stroke="#3a3a3a" stroke-width="0.3" textLength="10" lengthAdjust="spacingAndGlyphs">0.4</text>
<text x="414.5" y="71.3" font-size="9" text-anchor="end" fill="#3a3a3a" font-weight="normal" font-style="normal" font-family='"Liberation Sans", sans-serif' stroke="#3a3a3a" stroke-width="0.3" textLength="10" lengthAdjust="spacingAndGlyphs">0.6</text>
<text x="414.5" y="43.49999999999999" font-size="9" text-anchor="end" fill="#3a3a3a" font-weight="normal" font-style="normal" font-family='"Liberation Sans", sans-serif' stroke="#3a3a3a" stroke-width="0.3" textLength="10" lengthAdjust="spacingAndGlyphs">0.8</text>
<text x="414.5" y="15.699999999999994" font-size="9" text-anchor="end" fill="#3a3a3a" font-weight="normal" font-style="normal" font-family='"Liberation Sans", sans-serif' stroke="#3a3a3a" stroke-width="0.3" textLength="10" lengthAdjust="spacingAndGlyphs">1.0</text>
<line x1="428.9" y1="151.1" x2="428.9" y2="147.6" stroke="#666" stroke-width="1"/>
<text x="428.9" y="161.8" font-size="9" text-anchor="middle" fill="#3a3a3a" font-weight="normal" font-style="normal" font-family='"Liberation Sans", sans-serif' stroke="#3a3a3a" stroke-width="0.3">0</text>
<line x1="452.25" y1="151.1" x2="452.25" y2="147.6" stroke="#666" stroke-width="1"/>
<text x="452.25" y="161.8" font-size="9" text-anchor="middle" fill="#3a3a3a" font-weight="normal" font-style="normal" font-family='"Liberation Sans", sans-serif' stroke="#3a3a3a" stroke-width="0.3">1</text>
<line x1="475.59999999999997" y1="151.1" x2="475.59999999999997" y2="147.6" stroke="#666" stroke-width="1"/>
<text x="475.59999999999997" y="161.8" font-size="9" text-anchor="middle" fill="#3a3a3a" font-weight="normal" font-style="normal" font-family='"Liberation Sans", sans-serif' stroke="#3a3a3a" stroke-width="0.3">2</text>
<line x1="498.95" y1="151.1" x2="498.95" y2="147.6" stroke="#666" stroke-width="1"/>
<text x="498.95" y="161.8" font-size="9" text-anchor="middle" fill="#3a3a3a" font-weight="normal" font-style="normal" font-family='"Liberation Sans", sans-serif' stroke="#3a3a3a" stroke-width="0.3">3</text>
<line x1="522.3" y1="151.1" x2="522.3" y2="147.6" stroke="#666" stroke-width="1"/>
<text x="522.3" y="161.8" font-size="9" text-anchor="middle" fill="#3a3a3a" font-weight="normal" font-style="normal" font-family='"Liberation Sans", sans-serif' stroke="#3a3a3a" stroke-width="0.3">4</text>
<line x1="417.22499999999997" y1="151.1" x2="417.22499999999997" y2="149.1" stroke="#666" stroke-width="1"/>
<line x1="440.575" y1="151.1" x2="440.575" y2="149.1" stroke="#666" stroke-width="1"/>
<line x1="463.92499999999995" y1="151.1" x2="463.92499999999995" y2="149.1" stroke="#666" stroke-width="1"/>
<line x1="487.275" y1="151.1" x2="487.275" y2="149.1" stroke="#666" stroke-width="1"/>
<line x1="510.625" y1="151.1" x2="510.625" y2="149.1" stroke="#666" stroke-width="1"/>
<text x="472" y="170.8" font-size="9" text-anchor="middle" fill="#3a3a3a" font-weight="normal" font-style="normal" font-family='"Liberation Sans", sans-serif' stroke="#3a3a3a" stroke-width="0.3" textLength="29.5" lengthAdjust="spacingAndGlyphs">Time / ns</text>
<text x="0" y="0" font-size="9" text-anchor="middle" fill="#333" font-weight="normal" font-style="normal" font-family='"Liberation Sans", sans-serif' stroke="#333" stroke-width="0.35" transform="translate(399.8,75.1) rotate(-90)" textLength="90" lengthAdjust="spacingAndGlyphs">Fluorescence Intensity</text>
<text x="417.5" y="22.8" font-size="10" text-anchor="start" fill="#4a4a4a" font-weight="normal" font-style="normal" font-family='"Liberation Serif", serif' >(b)</text>
<line x1="505.7" y1="22.7" x2="517.8" y2="22.7" stroke="#111" stroke-width="1.6"/>
<text x="520.5" y="25.9" font-size="9" text-anchor="start" fill="#777" font-weight="normal" font-style="normal" font-family='"Liberation Serif", serif' >i</text>
<line x1="505.7" y1="33.0" x2="517.8" y2="33.0" stroke="#2a3aff" stroke-width="1.6"/>
<text x="520.5" y="36.2" font-size="9" text-anchor="start" fill="#777" font-weight="normal" font-style="normal" font-family='"Liberation Serif", serif' >ii</text>
<line x1="505.7" y1="43.3" x2="517.8" y2="43.3" stroke="#ff1a1a" stroke-width="1.6"/>
<text x="520.5" y="46.5" font-size="9" text-anchor="start" fill="#777" font-weight="normal" font-style="normal" font-family='"Liberation Serif", serif' >iii</text>
<text x="396" y="161.5" font-size="9" text-anchor="middle" fill="#3a3a3a" font-weight="normal" font-style="normal" font-family='"Liberation Sans", sans-serif' stroke="#3a3a3a" stroke-width="0.3">0</text>
<path d="M53.0,412.0 C53.0,412.8 52.6,414.3 53.2,417.0 C53.8,419.7 55.3,424.3 56.8,428.0 C58.3,431.7 61.0,436.8 62.3,439.1 C63.6,441.4 63.6,440.5 64.7,442.0 C65.8,443.5 67.6,446.3 69.1,447.9 C70.5,449.5 72.4,450.9 73.4,451.8 C74.4,452.7 73.8,452.5 75.0,453.1 C76.2,453.7 78.7,454.3 80.9,455.3 C83.1,456.3 86.0,458.1 88.2,459.0 C90.4,459.9 92.1,460.3 94.1,460.9 C96.1,461.5 98.0,462.4 100.0,462.6 C102.0,462.8 103.9,461.9 105.9,461.9 C107.9,461.9 110.2,462.7 111.8,462.6 C113.4,462.5 113.9,460.9 115.4,461.2 C116.9,461.4 119.0,463.7 120.6,464.1 C122.2,464.5 122.9,462.9 125.0,463.6 C127.1,464.3 129.8,467.1 133.2,468.2 C136.6,469.3 142.3,469.8 145.5,470.2 C148.7,470.6 149.6,470.9 152.3,470.9 C155.0,470.9 159.3,470.8 161.8,470.2 C164.3,469.6 165.2,468.2 167.3,467.5 C169.4,466.8 171.8,466.2 174.1,466.2 C176.4,466.2 178.4,468.0 180.9,467.5 C183.4,467.0 186.6,464.0 189.1,463.4 C191.6,462.8 193.9,463.6 195.9,463.8 C197.9,464.0 199.4,465.0 201.1,464.8 C202.8,464.6 204.1,463.4 205.9,462.7 C207.7,462.0 210.3,460.8 212.1,460.7 C213.9,460.6 214.7,461.4 216.8,462.1 C219.0,462.9 221.8,464.1 225.0,465.2 C228.2,466.3 233.2,467.8 235.9,468.9 C238.6,470.0 238.7,470.2 241.4,471.6 C244.1,473.0 248.7,475.1 252.3,477.1 C255.9,479.2 261.4,482.8 263.2,483.9" fill="none" stroke="#111" stroke-width="2" stroke-linejoin="round" stroke-linecap="round" />
<path d="M53.5,300.0 C53.6,313.3 53.6,363.1 54.0,380.0 C54.4,396.9 55.1,395.4 55.7,401.6 C56.3,407.8 56.9,411.9 57.4,417.0 C57.9,422.1 57.8,428.1 59.0,432.5 C60.2,436.9 62.7,441.9 64.5,443.5 C66.3,445.1 68.3,443.5 70.0,442.4 C71.7,441.3 73.3,438.4 74.5,436.9 C75.7,435.4 76.3,433.9 77.2,433.2 C78.1,432.5 79.0,433.4 80.1,432.5 C81.1,431.6 82.0,425.9 83.5,428.1 C85.0,430.3 87.2,441.6 89.0,445.7 C90.8,449.8 92.3,449.3 94.1,452.4 C95.9,455.5 98.5,462.4 100.0,464.1 C101.5,465.8 101.4,461.5 102.9,462.6 C104.4,463.7 106.3,469.2 108.8,470.7 C111.2,472.2 114.9,471.2 117.6,471.5 C120.3,471.8 122.0,471.7 125.0,472.3 C128.1,472.9 131.8,474.1 135.9,475.0 C140.0,475.9 145.3,477.3 149.6,477.7 C153.9,478.1 159.1,477.6 161.8,477.1 C164.5,476.7 163.4,475.6 165.9,475.0 C168.4,474.4 174.1,473.8 176.8,473.7 C179.5,473.6 180.0,474.4 182.3,474.3 C184.6,474.2 188.4,473.7 190.5,473.4 C192.6,473.1 192.7,472.4 194.6,472.3 C196.5,472.2 200.2,473.4 201.8,473.0 C203.5,472.6 201.5,470.2 204.5,469.6 C207.5,469.0 215.7,469.2 219.6,469.6 C223.5,470.1 225.4,471.7 227.7,472.3 C230.0,472.9 231.1,473.8 233.2,473.0 C235.2,472.2 238.4,468.5 240.0,467.5 C241.6,466.5 241.1,466.0 242.7,466.8 C244.3,467.6 247.3,470.2 249.6,472.3 C251.9,474.4 254.1,477.2 256.4,479.1 C258.7,481.0 262.1,483.1 263.2,483.9" fill="none" stroke="#1a1aff" stroke-width="2" stroke-linejoin="round" stroke-linecap="round" />
<path d="M54.0,300.0 C54.0,317.7 53.5,383.4 54.0,406.0 C54.5,428.6 55.8,428.8 56.8,435.8 C57.8,442.8 59.1,445.6 60.1,447.9 C61.1,450.2 61.8,450.3 62.9,449.6 C64.0,448.9 65.5,446.8 66.7,443.5 C67.9,440.2 69.1,434.4 70.0,430.0 C70.9,425.6 71.6,422.0 72.3,417.0 C73.0,412.0 73.5,404.5 74.0,400.0 C74.5,395.5 75.0,392.9 75.5,390.0 C76.0,387.1 76.3,385.1 77.2,382.8 C78.1,380.5 79.9,379.4 80.9,376.0 C82.0,372.6 82.7,361.5 83.5,362.2 C84.3,362.9 84.6,371.1 86.0,380.0 C87.4,388.9 90.3,407.0 91.9,415.9 C93.5,424.8 94.8,429.4 95.6,433.5 C96.4,437.6 96.0,436.9 97.0,440.6 C98.0,444.4 100.3,453.3 101.5,456.0 C102.7,458.7 103.2,454.1 104.4,456.8 C105.6,459.5 105.4,469.2 108.8,472.2 C112.2,475.2 118.2,473.7 125.0,475.0 C131.8,476.3 142.1,479.3 149.6,480.2 C157.1,481.1 162.4,480.4 170.0,480.2 C177.6,480.0 189.9,479.3 195.0,479.1 C200.1,478.9 198.9,479.9 200.5,479.1 C202.1,478.3 201.3,475.0 204.5,474.3 C207.7,473.6 216.2,474.5 219.6,474.7 C223.0,474.9 223.0,475.3 225.0,475.7 C227.0,476.1 230.0,477.2 231.8,477.1 C233.6,477.0 234.2,476.4 235.9,475.0 C237.6,473.6 239.8,469.1 242.1,468.9 C244.4,468.7 246.1,471.2 249.6,473.7 C253.1,476.2 260.9,482.2 263.2,483.9" fill="none" stroke="#00c800" stroke-width="2" stroke-linejoin="round" stroke-linecap="round" />
<path d="M53.2,318.0 C53.5,325.0 54.4,347.2 55.0,360.0 C55.6,372.8 56.3,386.4 57.0,395.0 C57.7,403.6 58.1,406.7 59.0,411.5 C59.9,416.3 61.5,422.6 62.5,424.0 C63.5,425.4 63.6,423.0 64.7,420.0 C65.8,417.0 67.8,410.2 68.9,406.0 C70.0,401.8 70.6,399.3 71.2,395.0 C71.8,390.7 71.7,387.0 72.3,380.0 C72.9,373.0 74.0,358.3 74.8,352.8 C75.6,347.3 75.9,349.7 77.3,347.0 C78.7,344.3 81.3,334.6 83.0,336.8 C84.7,339.0 85.9,350.7 87.5,360.0 C89.1,369.3 91.2,382.4 92.6,392.4 C93.9,402.4 94.4,411.7 95.6,420.0 C96.8,428.3 98.8,438.3 100.0,442.0 C101.2,445.7 102.2,440.8 102.9,442.0 C103.6,443.2 103.7,445.5 104.4,449.4 C105.2,453.3 106.2,462.4 107.4,465.6 C108.6,468.8 108.9,467.8 111.8,468.5 C114.7,469.2 121.0,468.7 125.0,469.6 C129.0,470.5 131.8,472.2 135.9,473.7 C140.0,475.2 143.9,477.5 149.6,478.4 C155.3,479.3 164.6,478.9 170.0,479.1 C175.4,479.3 178.9,479.6 182.3,479.8 C185.7,480.0 188.4,480.2 190.5,480.2 C192.6,480.2 193.4,480.0 195.0,479.8 C196.6,479.6 198.4,480.6 199.8,479.1 C201.2,477.6 199.9,472.3 203.2,470.9 C206.5,469.5 215.3,470.3 219.6,470.9 C223.9,471.5 226.4,473.9 229.1,474.3 C231.8,474.7 233.6,475.1 235.9,473.0 C238.2,470.9 240.9,463.2 242.7,461.7 C244.5,460.2 244.5,461.7 246.8,464.1 C249.1,466.6 253.7,473.1 256.4,476.4 C259.1,479.7 262.1,482.6 263.2,483.9" fill="none" stroke="#ff00ff" stroke-width="2" stroke-linejoin="round" stroke-linecap="round" />
<path d="M53.8,300.0 C53.9,315.8 54.3,375.5 54.6,395.0 C54.9,414.5 55.2,410.6 55.7,417.0 C56.2,423.4 56.8,429.2 57.4,433.6 C58.0,438.0 58.7,441.2 59.6,443.5 C60.5,445.8 61.8,447.4 62.9,447.4 C64.0,447.4 65.0,446.2 66.2,443.5 C67.4,440.8 68.6,436.4 70.0,431.4 C71.4,426.4 73.4,419.2 74.5,413.7 C75.6,408.2 75.6,401.9 76.5,398.2 C77.4,394.5 78.9,394.8 80.1,391.6 C81.3,388.4 82.5,378.5 83.5,379.1 C84.5,379.7 85.1,388.4 86.0,395.0 C86.9,401.6 87.7,412.9 89.0,418.8 C90.3,424.7 92.8,425.5 94.1,430.6 C95.4,435.7 95.9,444.7 97.0,449.4 C98.1,454.1 99.5,457.4 100.7,459.0 C101.9,460.6 103.2,457.2 104.4,459.0 C105.6,460.8 104.7,467.4 108.1,470.0 C111.5,472.6 120.8,473.1 125.0,474.3 C129.2,475.5 129.1,476.3 133.2,477.1 C137.3,477.9 144.6,478.9 149.6,479.1 C154.6,479.3 158.2,478.6 163.2,478.4 C168.2,478.2 174.6,477.9 179.6,477.7 C184.6,477.5 189.7,477.2 193.2,477.1 C196.7,477.0 198.7,478.1 200.5,477.1 C202.3,476.1 200.7,471.8 203.9,470.9 C207.1,470.0 215.2,471.1 219.6,471.6 C224.0,472.1 228.0,473.5 230.5,473.7 C233.0,473.9 232.7,473.9 234.6,473.0 C236.5,472.1 239.6,468.1 242.1,468.2 C244.6,468.3 246.1,471.1 249.6,473.7 C253.1,476.3 260.9,482.2 263.2,483.9" fill="none" stroke="#ff0000" stroke-width="2" stroke-linejoin="round" stroke-linecap="round" />
<line x1="53.0" y1="300.0" x2="53.0" y2="503.09999999999997" stroke="#222" stroke-width="1.5"/>
<line x1="52.3" y1="502.4" x2="263.8" y2="502.4" stroke="#222" stroke-width="1.5"/>
<line x1="53.0" y1="494.31" x2="56.5" y2="494.31" stroke="#222" stroke-width="1.3"/>
<line x1="53.0" y1="486.21999999999997" x2="56.5" y2="486.21999999999997" stroke="#222" stroke-width="1.3"/>
<line x1="53.0" y1="478.13" x2="56.5" y2="478.13" stroke="#222" stroke-width="1.3"/>
<line x1="53.0" y1="470.03999999999996" x2="56.5" y2="470.03999999999996" stroke="#222" stroke-width="1.3"/>
<line x1="53.0" y1="461.95" x2="60.0" y2="461.95" stroke="#222" stroke-width="1.3"/>
<line x1="53.0" y1="453.85999999999996" x2="56.5" y2="453.85999999999996" stroke="#222" stroke-width="1.3"/>
<line x1="53.0" y1="445.77" x2="56.5" y2="445.77" stroke="#222" stroke-width="1.3"/>
<line x1="53.0" y1="437.67999999999995" x2="56.5" y2="437.67999999999995" stroke="#222" stroke-width="1.3"/>
<line x1="53.0" y1="429.59" x2="56.5" y2="429.59" stroke="#222" stroke-width="1.3"/>
<line x1="53.0" y1="421.5" x2="60.0" y2="421.5" stroke="#222" stroke-width="1.3"/>
<line x1="53.0" y1="413.40999999999997" x2="56.5" y2="413.40999999999997" stroke="#222" stroke-width="1.3"/>
<line x1="53.0" y1="405.31999999999994" x2="56.5" y2="405.31999999999994" stroke="#222" stroke-width="1.3"/>
<line x1="53.0" y1="397.22999999999996" x2="56.5" y2="397.22999999999996" stroke="#222" stroke-width="1.3"/>
<line x1="53.0" y1="389.14" x2="56.5" y2="389.14" stroke="#222" stroke-width="1.3"/>
<line x1="53.0" y1="381.04999999999995" x2="60.0" y2="381.04999999999995" stroke="#222" stroke-width="1.3"/>
<line x1="53.0" y1="372.9599999999999" x2="56.5" y2="372.9599999999999" stroke="#222" stroke-width="1.3"/>
<line x1="53.0" y1="364.86999999999995" x2="56.5" y2="364.86999999999995" stroke="#222" stroke-width="1.3"/>
<line x1="53.0" y1="356.78" x2="56.5" y2="356.78" stroke="#222" stroke-width="1.3"/>
<line x1="53.0" y1="348.68999999999994" x2="56.5" y2="348.68999999999994" stroke="#222" stroke-width="1.3"/>
<line x1="53.0" y1="340.59999999999997" x2="60.0" y2="340.59999999999997" stroke="#222" stroke-width="1.3"/>
<line x1="53.0" y1="332.51" x2="56.5" y2="332.51" stroke="#222" stroke-width="1.3"/>
<line x1="53.0" y1="324.41999999999996" x2="56.5" y2="324.41999999999996" stroke="#222" stroke-width="1.3"/>
<line x1="53.0" y1="316.3299999999999" x2="56.5" y2="316.3299999999999" stroke="#222" stroke-width="1.3"/>
<line x1="53.0" y1="308.2399999999999" x2="56.5" y2="308.2399999999999" stroke="#222" stroke-width="1.3"/>
<line x1="53.0" y1="300.15" x2="60.0" y2="300.15" stroke="#222" stroke-width="1.3"/>
<line x1="60.44" y1="502.4" x2="60.44" y2="499.4" stroke="#222" stroke-width="1.3"/>
<line x1="67.97999999999999" y1="502.4" x2="67.97999999999999" y2="499.4" stroke="#222" stroke-width="1.3"/>
<line x1="75.52" y1="502.4" x2="75.52" y2="499.4" stroke="#222" stroke-width="1.3"/>
<line x1="83.06" y1="502.4" x2="83.06" y2="499.4" stroke="#222" stroke-width="1.3"/>
<line x1="90.6" y1="502.4" x2="90.6" y2="499.4" stroke="#222" stroke-width="1.3"/>
<line x1="98.13999999999999" y1="502.4" x2="98.13999999999999" y2="499.4" stroke="#222" stroke-width="1.3"/>
<line x1="105.67999999999999" y1="502.4" x2="105.67999999999999" y2="499.4" stroke="#222" stroke-width="1.3"/>
<line x1="113.22" y1="502.4" x2="113.22" y2="495.4" stroke="#222" stroke-width="1.3"/>
<line x1="120.75999999999999" y1="502.4" x2="120.75999999999999" y2="499.4" stroke="#222" stroke-width="1.3"/>
<line x1="128.29999999999998" y1="502.4" x2="128.29999999999998" y2="499.4" stroke="#222" stroke-width="1.3"/>
<line x1="135.84" y1="502.4" x2="135.84" y2="499.4" stroke="#222" stroke-width="1.3"/>
<line x1="143.38" y1="502.4" x2="143.38" y2="499.4" stroke="#222" stroke-width="1.3"/>
<line x1="150.92" y1="502.4" x2="150.92" y2="499.4" stroke="#222" stroke-width="1.3"/>
<line x1="158.45999999999998" y1="502.4" x2="158.45999999999998" y2="499.4" stroke="#222" stroke-width="1.3"/>
<line x1="166.0" y1="502.4" x2="166.0" y2="499.4" stroke="#222" stroke-width="1.3"/>
<line x1="173.54" y1="502.4" x2="173.54" y2="495.4" stroke="#222" stroke-width="1.3"/>
<line x1="181.07999999999998" y1="502.4" x2="181.07999999999998" y2="499.4" stroke="#222" stroke-width="1.3"/>
<line x1="188.62" y1="502.4" x2="188.62" y2="499.4" stroke="#222" stroke-width="1.3"/>
<line x1="196.16" y1="502.4" x2="196.16" y2="499.4" stroke="#222" stroke-width="1.3"/>
<line x1="203.7" y1="502.4" x2="203.7" y2="499.4" stroke="#222" stroke-width="1.3"/>
<line x1="211.23999999999998" y1="502.4" x2="211.23999999999998" y2="499.4" stroke="#222" stroke-width="1.3"/>
<line x1="218.78" y1="502.4" x2="218.78" y2="499.4" stroke="#222" stroke-width="1.3"/>
<line x1="226.32" y1="502.4" x2="226.32" y2="499.4" stroke="#222" stroke-width="1.3"/>
<line x1="233.85999999999999" y1="502.4" x2="233.85999999999999" y2="495.4" stroke="#222" stroke-width="1.3"/>
<line x1="241.4" y1="502.4" x2="241.4" y2="499.4" stroke="#222" stroke-width="1.3"/>
<line x1="248.94" y1="502.4" x2="248.94" y2="499.4" stroke="#222" stroke-width="1.3"/>
<line x1="256.47999999999996" y1="502.4" x2="256.47999999999996" y2="499.4" stroke="#222" stroke-width="1.3"/>
<line x1="264.02" y1="502.4" x2="264.02" y2="499.4" stroke="#222" stroke-width="1.3"/>
<text transform="translate(50.0,507.0) scale(0.9,1)" x="0" y="0" font-size="13.5" text-anchor="end" letter-spacing="1.2" font-family='"Liberation Sans", sans-serif' fill="#333">0.0</text>
<text transform="translate(50.0,466.6) scale(0.9,1)" x="0" y="0" font-size="13.5" text-anchor="end" letter-spacing="1.2" font-family='"Liberation Sans", sans-serif' fill="#333">0.5</text>
<text transform="translate(50.0,426.1) scale(0.9,1)" x="0" y="0" font-size="13.5" text-anchor="end" letter-spacing="1.2" font-family='"Liberation Sans", sans-serif' fill="#333">1.0</text>
<text transform="translate(50.0,385.6) scale(0.9,1)" x="0" y="0" font-size="13.5" text-anchor="end" letter-spacing="1.2" font-family='"Liberation Sans", sans-serif' fill="#333">1.5</text>
<text transform="translate(50.0,345.2) scale(0.9,1)" x="0" y="0" font-size="13.5" text-anchor="end" letter-spacing="1.2" font-family='"Liberation Sans", sans-serif' fill="#333">2.0</text>
<text transform="translate(50.0,304.8) scale(0.9,1)" x="0" y="0" font-size="13.5" text-anchor="end" letter-spacing="1.2" font-family='"Liberation Sans", sans-serif' fill="#333">2.5</text>
<text x="52.9" y="519" font-size="13" text-anchor="middle" fill="#333" font-weight="normal" font-style="normal" font-family='"Liberation Sans", sans-serif' >400</text>
<text x="113.22" y="519" font-size="13" text-anchor="middle" fill="#333" font-weight="normal" font-style="normal" font-family='"Liberation Sans", sans-serif' >800</text>
<text x="173.54" y="519" font-size="13" text-anchor="middle" fill="#333" font-weight="normal" font-style="normal" font-family='"Liberation Sans", sans-serif' >1200</text>
<text x="233.85999999999999" y="519" font-size="13" text-anchor="middle" fill="#333" font-weight="normal" font-style="normal" font-family='"Liberation Sans", sans-serif' >1600</text>
<text transform="translate(70.4,315.5) scale(0.95,1)" x="0" y="0" font-size="20.5" font-family='"Liberation Sans", sans-serif' fill="#222">(c)</text>
<line x1="11.6" y1="392" x2="11.6" y2="370" stroke="#222" stroke-width="1.2"/>
<polygon points="11.6,365 9,373 14.2,373" fill="#222"/>
<text x="9" y="406" font-size="12" text-anchor="middle" fill="#333" font-weight="normal" font-style="italic" font-family='"Liberation Sans", sans-serif' >A</text>
<text transform="translate(139.5,541) scale(0.85,1)" x="0" y="0" font-size="15" font-style="italic" font-family='"Liberation Serif", serif' fill="#333">λ</text>
<text transform="translate(150.3,541) scale(0.85,1)" x="0" y="0" font-size="15.5" font-family='"Liberation Sans", sans-serif' fill="#333">/ nm</text>
<line x1="180.7" y1="537.9" x2="207" y2="537.9" stroke="#222" stroke-width="1.2"/>
<polygon points="204,535.3 212,536.5 215,537.9 212,539.3 204,540.5" fill="#111"/>
<rect x="107.3" y="302.5" width="121.10000000000001" height="17.69999999999999" fill="#fff" stroke="#484848" stroke-width="1.4"/>
<rect x="124.0" y="338.7" width="128.0" height="19.100000000000023" fill="#fff" stroke="#484848" stroke-width="1.4"/>
<rect x="106.7" y="401.2" width="117.10000000000001" height="16.80000000000001" fill="#fff" stroke="#484848" stroke-width="1.4"/>
<rect x="265.5" y="328.6" width="26.30000000000001" height="11.799999999999955" fill="#fff" stroke="#484848" stroke-width="1.4"/>
<rect x="265.0" y="353.2" width="27.80000000000001" height="18.30000000000001" fill="#fff" stroke="#3333ff" stroke-width="1.4"/>
<text transform="translate(110,314.6) scale(0.8,1)" x="0.00 8.64 19.77 28.90 38.03 46.16" y="0" font-family='"Liberation Sans", sans-serif' font-size="9" font-weight="normal" fill="#333333" stroke="#333333" stroke-width="0.3">SWCNT:</text>
<text transform="translate(150,310) scale(0.8,1)" x="0.00" y="0" font-family='"Liberation Sans", sans-serif' font-size="6" font-weight="normal" fill="#ff30ff" stroke="#ff30ff" stroke-width="0.3">1</text>
<text transform="translate(152.7,314.6) scale(0.8,1)" x="0.00" y="0" font-family='"Liberation Sans", sans-serif' font-size="9.5" font-weight="normal" fill="#ff30ff" stroke="#ff30ff" stroke-width="0.3">C</text>
<text transform="translate(159.7,316.2) scale(0.8,1)" x="0.00 5.77" y="0" font-family='"Liberation Sans", sans-serif' font-size="6.5" font-weight="normal" fill="#ff30ff" stroke="#ff30ff" stroke-width="0.3">60</text>
<text transform="translate(168.5,311.5) scale(0.8,1)" x="0.00" y="0" font-family='"Liberation Sans", sans-serif' font-size="7" font-weight="normal" fill="#ff30ff" stroke="#ff30ff" stroke-width="0.3">*</text>
<text transform="translate(172.3,315) scale(0.8,1)" x="0.00 5.15 13.80 20.96 28.12 35.28 40.43 44.58 54.23 61.39 66.54" y="0" font-family='"Liberation Sans", sans-serif' font-size="9" font-weight="normal" fill="#333333" stroke="#333333" stroke-width="0.3">(Dendrimer)</text>
<text transform="translate(125.9,353) scale(0.8,1)" x="0.00 8.17 18.83 27.50 36.17" y="0" font-family='"Liberation Sans", sans-serif' font-size="9" font-weight="normal" fill="#333333" stroke="#333333" stroke-width="0.3">SWCNT</text>
<text transform="translate(163.5,348) scale(0.8,1)" x="0.00 4.48" y="0" font-family='"Liberation Sans", sans-serif' font-size="6.5" font-weight="normal" fill="#333333" stroke="#333333" stroke-width="0.3">·-</text>
<text transform="translate(169.6,353) scale(0.8,1)" x="0.00" y="0" font-family='"Liberation Sans", sans-serif' font-size="9" font-weight="normal" fill="#333333" stroke="#333333" stroke-width="0.3">;</text>
<text transform="translate(173,353) scale(0.8,1)" x="0.00" y="0" font-family='"Liberation Sans", sans-serif' font-size="9.5" font-weight="normal" fill="#ff30ff" stroke="#ff30ff" stroke-width="0.3">C</text>
<text transform="translate(180.2,354) scale(0.8,1)" x="0.00 5.27" y="0" font-family='"Liberation Sans", sans-serif' font-size="6.5" font-weight="normal" fill="#ff30ff" stroke="#ff30ff" stroke-width="0.3">60</text>
<text transform="translate(188.5,348) scale(0.8,1)" x="0.00 4.23" y="0" font-family='"Liberation Sans", sans-serif' font-size="6.5" font-weight="normal" fill="#ff30ff" stroke="#ff30ff" stroke-width="0.3">·-</text>
<text transform="translate(193.5,353.5) scale(0.8,1)" x="0.00 5.13 13.75 20.89 28.02 35.15 40.28 44.41 54.03 61.17 66.29" y="0" font-family='"Liberation Sans", sans-serif' font-size="9" font-weight="normal" fill="#333333" stroke="#333333" stroke-width="0.3">(Dendrimer)</text>
<text transform="translate(108.5,413.8) scale(0.8,1)" x="0.00 8.39 19.27 28.15 37.03 44.91" y="0" font-family='"Liberation Sans", sans-serif' font-size="9" font-weight="normal" fill="#333333" stroke="#333333" stroke-width="0.3">SWCNT;</text>
<text transform="translate(147.3,413.8) scale(0.8,1)" x="0.00" y="0" font-family='"Liberation Sans", sans-serif' font-size="9.5" font-weight="normal" fill="#ff30ff" stroke="#ff30ff" stroke-width="0.3">C</text>
<text transform="translate(154,415.3) scale(0.8,1)" x="0.00 4.90" y="0" font-family='"Liberation Sans", sans-serif' font-size="6.5" font-weight="normal" fill="#ff30ff" stroke="#ff30ff" stroke-width="0.3">60</text>
<text transform="translate(162.5,413.8) scale(0.8,1)" x="0.00 4.95 13.41 20.37 27.34 34.30 39.26 43.21 52.67 59.63 64.58 69.04" y="0" font-family='"Liberation Sans", sans-serif' font-size="9" font-weight="normal" fill="#333333" stroke="#333333" stroke-width="0.3">(Dendrimer )</text>
<text transform="translate(267.6,338.7) scale(0.8,1)" x="0.00 11.16" y="0" font-family='"Liberation Sans", sans-serif' font-size="9" font-weight="normal" fill="#333333" stroke="#333333" stroke-width="0.3">MV</text>
<text transform="translate(283,334.3) scale(0.8,1)" x="0.00 4.36" y="0" font-family='"Liberation Sans", sans-serif' font-size="6" font-weight="normal" fill="#333333" stroke="#333333" stroke-width="0.3">2+</text>
<text transform="translate(267,366.3) scale(0.8,1)" x="0.00 11.16" y="0" font-family='"Liberation Sans", sans-serif' font-size="9" font-weight="normal" fill="#3a4aee" stroke="#3a4aee" stroke-width="0.3">MV</text>
<text transform="translate(283.6,362) scale(0.8,1)" x="0.00 4.98" y="0" font-family='"Liberation Sans", sans-serif' font-size="6.5" font-weight="normal" fill="#3a4aee" stroke="#3a4aee" stroke-width="0.3">·-</text>
<text transform="translate(143,331.3) scale(0.8,1)" x="0.00 7.35 13.38 19.40 23.64 29.66 35.69 39.49 46.40 52.42 58.44 64.47 68.71 74.73 78.53 81.88 87.91" y="0" font-family='"Liberation Sans", sans-serif' font-size="8" font-weight="normal" fill="#2a3ae8" stroke="#2a3ae8" stroke-width="0.15">Charge Separation</text>
<text transform="translate(148,379.6) scale(0.8,1)" x="0.00 7.52 13.70 19.89 24.29 30.48 36.67 40.63 48.15 54.33 60.07 66.26 74.66 80.85 84.37 90.55 96.74 100.70 104.22 110.41" y="0" font-family='"Liberation Sans", sans-serif' font-size="8" font-weight="normal" fill="#2a3ae8" stroke="#2a3ae8" stroke-width="0.15">Charge Recombination</text>
<text transform="translate(257.5,348.2) scale(0.8,1)" x="0.00 8.80" y="0" font-family='"Liberation Sans", sans-serif' font-size="8.5" font-weight="bold" fill="#3040ee" stroke="#3040ee" stroke-width="0.3">EM</text>
<text x="105.8" y="353" font-size="10" text-anchor="start" fill="#ee2222" font-weight="normal" font-style="italic" font-family='"Liberation Serif", serif' >h</text>
<path d="M113.6,349.6 Q115.6,353.5 116.8,352.2 Q118.2,350.6 118.6,349.6" fill="none" stroke="#ee2222" stroke-width="1.6"/>
<line x1="119" y1="401" x2="119" y2="326" stroke="#111" stroke-width="1.5"/>
<polygon points="119,320.8 117.2,327 120.8,327" fill="#111"/>
<line x1="127.3" y1="320.5" x2="137.5" y2="334.5" stroke="#111" stroke-width="1.2"/>
<polygon points="140.5,338.5 134.5,334.5 139.0,331.5" fill="#111"/>
<line x1="153.8" y1="358" x2="136" y2="395" stroke="#111" stroke-width="1.2"/>
<polygon points="134,400.5 133.3,393.2 138.5,395.5" fill="#111"/>
<path d="M261,334.3 Q248,348 258,359" fill="none" stroke="#333" stroke-width="1.1"/>
<polygon points="261.5,362.5 255.5,359.8 259,356.5" fill="#111"/>
<rect x="304" y="287.7" width="236.6" height="232.8" fill="#f0f0f0"/>
<rect x="339.7" y="294.8" width="190.3" height="191.2" fill="#f2f2f2" stroke="#777" stroke-width="1.5"/>
<line x1="339.7" y1="422.3" x2="342.7" y2="422.3" stroke="#888" stroke-width="1"/>
<line x1="339.7" y1="358.6" x2="342.7" y2="358.6" stroke="#888" stroke-width="1"/>
<line x1="403.13" y1="486.0" x2="403.13" y2="483.0" stroke="#888" stroke-width="1"/>
<line x1="466.56" y1="486.0" x2="466.56" y2="483.0" stroke="#888" stroke-width="1"/>
<text x="336.8" y="426.6" font-size="12" text-anchor="end" fill="#2a2a2a" font-weight="normal" font-style="normal" font-family='"Liberation Sans", sans-serif' stroke="#2a2a2a" stroke-width="0.25">0.4</text>
<text x="336.8" y="362.90000000000003" font-size="12" text-anchor="end" fill="#2a2a2a" font-weight="normal" font-style="normal" font-family='"Liberation Sans", sans-serif' stroke="#2a2a2a" stroke-width="0.25">0.8</text>
<text x="336.8" y="299.2" font-size="12" text-anchor="end" fill="#2a2a2a" font-weight="normal" font-style="normal" font-family='"Liberation Sans", sans-serif' stroke="#2a2a2a" stroke-width="0.25">1.2</text>
<text x="319.8" y="490.6" font-size="12" text-anchor="start" fill="#2a2a2a" font-weight="normal" font-style="normal" font-family='"Liberation Sans", sans-serif' stroke="#2a2a2a" stroke-width="0.25">0</text>
<text x="340.5" y="499.6" font-size="12" text-anchor="middle" fill="#2a2a2a" font-weight="normal" font-style="normal" font-family='"Liberation Sans", sans-serif' stroke="#2a2a2a" stroke-width="0.25">400</text>
<text x="403.93" y="499.6" font-size="12" text-anchor="middle" fill="#2a2a2a" font-weight="normal" font-style="normal" font-family='"Liberation Sans", sans-serif' stroke="#2a2a2a" stroke-width="0.25">500</text>
<text x="467.36" y="499.6" font-size="12" text-anchor="middle" fill="#2a2a2a" font-weight="normal" font-style="normal" font-family='"Liberation Sans", sans-serif' stroke="#2a2a2a" stroke-width="0.25">600</text>
<text x="530.79" y="499.6" font-size="12" text-anchor="middle" fill="#2a2a2a" font-weight="normal" font-style="normal" font-family='"Liberation Sans", sans-serif' stroke="#2a2a2a" stroke-width="0.25">700</text>
<text x="436.7" y="517.2" font-size="12" text-anchor="middle" fill="#2a2a2a" font-weight="normal" font-style="normal" font-family='"Liberation Sans", sans-serif' stroke="#2a2a2a" stroke-width="0.2">Wavelength / nm</text>
<text x="0" y="0" font-size="12.5" text-anchor="middle" fill="#333" font-weight="normal" font-style="normal" font-family='"Liberation Sans", sans-serif' transform="translate(314.5,390) rotate(-90)" textLength="49" lengthAdjust="spacingAndGlyphs">IPCE / %</text>
<text transform="translate(345,323) scale(0.95,1)" x="0" y="0" font-size="20.5" font-family='"Liberation Sans", sans-serif' fill="#222">(d)</text>
<polyline points="339.7,472.8 346.0,466.6 352.4,465.0 358.7,461.6 365.1,452.6 371.4,448.7 377.8,443.6 384.1,436.6 390.4,434.4 396.8,436.2 403.1,442.2 409.5,448.7 415.8,466.3 422.2,466.3 428.5,474.4 434.8,478.2 441.2,482.0 447.5,482.0 453.9,486.0 460.2,486.0 466.6,486.0 472.9,486.0 479.2,486.0 485.6,486.0 491.9,486.0 498.3,486.0 504.6,486.0 511.0,486.0 517.3,486.0 523.6,486.0 530.0,486.0" fill="none" stroke="#4a55e0" stroke-width="1.4" stroke-linejoin="round" stroke-linecap="round" />
<polyline points="339.7,389.3 346.0,382.2 352.4,372.0 358.7,358.6 365.1,345.5 371.4,332.3 377.8,325.6 384.1,328.0 390.4,341.2 396.8,358.6 403.1,381.7 409.5,402.9 415.8,425.5 422.2,445.9 428.5,458.1 434.8,466.1 441.2,474.2 447.5,482.0 453.9,482.0 460.2,486.0 466.6,486.0 472.9,486.0 479.2,486.0 485.6,486.0 491.9,486.0 498.3,486.0 504.6,486.0 511.0,486.0 517.3,486.0 523.6,486.0 530.0,486.0" fill="none" stroke="#ee4a4a" stroke-width="1.4" stroke-linejoin="round" stroke-linecap="round" />
<rect x="337.5" y="470.6" width="4.4" height="4.4" fill="#fff" stroke="#c8c8f0" stroke-width="0.8"/>
<rect x="343.8" y="464.4" width="4.4" height="4.4" fill="#fff" stroke="#c8c8f0" stroke-width="0.8"/>
<rect x="350.2" y="462.8" width="4.4" height="4.4" fill="#fff" stroke="#c8c8f0" stroke-width="0.8"/>
<rect x="356.5" y="459.4" width="4.4" height="4.4" fill="#fff" stroke="#c8c8f0" stroke-width="0.8"/>
<rect x="362.9" y="450.4" width="4.4" height="4.4" fill="#fff" stroke="#c8c8f0" stroke-width="0.8"/>
<rect x="369.2" y="446.5" width="4.4" height="4.4" fill="#fff" stroke="#c8c8f0" stroke-width="0.8"/>
<rect x="375.6" y="441.4" width="4.4" height="4.4" fill="#fff" stroke="#c8c8f0" stroke-width="0.8"/>
<rect x="381.9" y="434.4" width="4.4" height="4.4" fill="#fff" stroke="#c8c8f0" stroke-width="0.8"/>
<rect x="388.2" y="432.2" width="4.4" height="4.4" fill="#fff" stroke="#c8c8f0" stroke-width="0.8"/>
<rect x="394.6" y="434.0" width="4.4" height="4.4" fill="#fff" stroke="#c8c8f0" stroke-width="0.8"/>
<rect x="400.9" y="440.0" width="4.4" height="4.4" fill="#fff" stroke="#c8c8f0" stroke-width="0.8"/>
<rect x="407.3" y="446.5" width="4.4" height="4.4" fill="#fff" stroke="#c8c8f0" stroke-width="0.8"/>
<rect x="413.6" y="464.1" width="4.4" height="4.4" fill="#fff" stroke="#c8c8f0" stroke-width="0.8"/>
<rect x="420.0" y="464.1" width="4.4" height="4.4" fill="#fff" stroke="#c8c8f0" stroke-width="0.8"/>
<rect x="426.3" y="472.2" width="4.4" height="4.4" fill="#fff" stroke="#c8c8f0" stroke-width="0.8"/>
<rect x="432.6" y="476.0" width="4.4" height="4.4" fill="#fff" stroke="#c8c8f0" stroke-width="0.8"/>
<rect x="439.0" y="479.8" width="4.4" height="4.4" fill="#fff" stroke="#c8c8f0" stroke-width="0.8"/>
<rect x="445.3" y="479.8" width="4.4" height="4.4" fill="#fff" stroke="#c8c8f0" stroke-width="0.8"/>
<rect x="451.7" y="483.8" width="4.4" height="4.4" fill="#fff" stroke="#c8c8f0" stroke-width="0.8"/>
<rect x="458.0" y="483.8" width="4.4" height="4.4" fill="#fff" stroke="#c8c8f0" stroke-width="0.8"/>
<rect x="464.4" y="483.8" width="4.4" height="4.4" fill="#fff" stroke="#c8c8f0" stroke-width="0.8"/>
<rect x="470.7" y="483.8" width="4.4" height="4.4" fill="#fff" stroke="#c8c8f0" stroke-width="0.8"/>
<rect x="477.0" y="483.8" width="4.4" height="4.4" fill="#fff" stroke="#c8c8f0" stroke-width="0.8"/>
<rect x="483.4" y="483.8" width="4.4" height="4.4" fill="#fff" stroke="#c8c8f0" stroke-width="0.8"/>
<rect x="489.7" y="483.8" width="4.4" height="4.4" fill="#fff" stroke="#c8c8f0" stroke-width="0.8"/>
<rect x="496.1" y="483.8" width="4.4" height="4.4" fill="#fff" stroke="#c8c8f0" stroke-width="0.8"/>
<rect x="502.4" y="483.8" width="4.4" height="4.4" fill="#fff" stroke="#c8c8f0" stroke-width="0.8"/>
<rect x="508.8" y="483.8" width="4.4" height="4.4" fill="#fff" stroke="#c8c8f0" stroke-width="0.8"/>
<rect x="515.1" y="483.8" width="4.4" height="4.4" fill="#fff" stroke="#c8c8f0" stroke-width="0.8"/>
<rect x="521.4" y="483.8" width="4.4" height="4.4" fill="#fff" stroke="#c8c8f0" stroke-width="0.8"/>
<rect x="527.8" y="483.8" width="4.4" height="4.4" fill="#fff" stroke="#c8c8f0" stroke-width="0.8"/>
<circle cx="339.7" cy="389.3" r="2.2" fill="#fff" stroke="#e8b0c8" stroke-width="0.8"/>
<circle cx="346.0" cy="382.2" r="2.2" fill="#fff" stroke="#e8b0c8" stroke-width="0.8"/>
<circle cx="352.4" cy="372.0" r="2.2" fill="#fff" stroke="#e8b0c8" stroke-width="0.8"/>
<circle cx="358.7" cy="358.6" r="2.2" fill="#fff" stroke="#e8b0c8" stroke-width="0.8"/>
<circle cx="365.1" cy="345.5" r="2.2" fill="#fff" stroke="#e8b0c8" stroke-width="0.8"/>
<circle cx="371.4" cy="332.3" r="2.2" fill="#fff" stroke="#e8b0c8" stroke-width="0.8"/>
<circle cx="377.8" cy="325.6" r="2.2" fill="#fff" stroke="#e8b0c8" stroke-width="0.8"/>
<circle cx="384.1" cy="328.0" r="2.2" fill="#fff" stroke="#e8b0c8" stroke-width="0.8"/>
<circle cx="390.4" cy="341.2" r="2.2" fill="#fff" stroke="#e8b0c8" stroke-width="0.8"/>
<circle cx="396.8" cy="358.6" r="2.2" fill="#fff" stroke="#e8b0c8" stroke-width="0.8"/>
<circle cx="403.1" cy="381.7" r="2.2" fill="#fff" stroke="#e8b0c8" stroke-width="0.8"/>
<circle cx="409.5" cy="402.9" r="2.2" fill="#fff" stroke="#e8b0c8" stroke-width="0.8"/>
<circle cx="415.8" cy="425.5" r="2.2" fill="#fff" stroke="#e8b0c8" stroke-width="0.8"/>
<circle cx="422.2" cy="445.9" r="2.2" fill="#fff" stroke="#e8b0c8" stroke-width="0.8"/>
<circle cx="428.5" cy="458.1" r="2.2" fill="#fff" stroke="#e8b0c8" stroke-width="0.8"/>
<circle cx="434.8" cy="466.1" r="2.2" fill="#fff" stroke="#e8b0c8" stroke-width="0.8"/>
<circle cx="441.2" cy="474.2" r="2.2" fill="#fff" stroke="#e8b0c8" stroke-width="0.8"/>
<circle cx="447.5" cy="482.0" r="2.2" fill="#fff" stroke="#e8b0c8" stroke-width="0.8"/>
<circle cx="453.9" cy="482.0" r="2.2" fill="#fff" stroke="#e8b0c8" stroke-width="0.8"/>
<circle cx="460.2" cy="486.0" r="2.2" fill="#fff" stroke="#e8b0c8" stroke-width="0.8"/>
<circle cx="466.6" cy="486.0" r="2.2" fill="#fff" stroke="#e8b0c8" stroke-width="0.8"/>
<circle cx="472.9" cy="486.0" r="2.2" fill="#fff" stroke="#e8b0c8" stroke-width="0.8"/>
<circle cx="479.2" cy="486.0" r="2.2" fill="#fff" stroke="#e8b0c8" stroke-width="0.8"/>
<circle cx="485.6" cy="486.0" r="2.2" fill="#fff" stroke="#e8b0c8" stroke-width="0.8"/>
<circle cx="491.9" cy="486.0" r="2.2" fill="#fff" stroke="#e8b0c8" stroke-width="0.8"/>
<circle cx="498.3" cy="486.0" r="2.2" fill="#fff" stroke="#e8b0c8" stroke-width="0.8"/>
<circle cx="504.6" cy="486.0" r="2.2" fill="#fff" stroke="#e8b0c8" stroke-width="0.8"/>
<circle cx="511.0" cy="486.0" r="2.2" fill="#fff" stroke="#e8b0c8" stroke-width="0.8"/>
<circle cx="517.3" cy="486.0" r="2.2" fill="#fff" stroke="#e8b0c8" stroke-width="0.8"/>
<circle cx="523.6" cy="486.0" r="2.2" fill="#fff" stroke="#e8b0c8" stroke-width="0.8"/>
<circle cx="530.0" cy="486.0" r="2.2" fill="#fff" stroke="#e8b0c8" stroke-width="0.8"/>
<text x="388.5" y="331" font-size="12.5" text-anchor="start" fill="#e82828" font-weight="bold" font-style="normal" font-family='"Liberation Sans", sans-serif' >b</text>
<text x="362.5" y="444.5" font-size="12.5" text-anchor="start" fill="#3344dd" font-weight="bold" font-style="normal" font-family='"Liberation Sans", sans-serif' >a</text>
<text transform="translate(175.8,42.1) scale(0.84,1)" x="0.00 7.85 18.75 27.21 34.44 38.62 45.25 48.82 55.45 59.63 66.26 72.28 80.74 87.37" y="0" font-family='"Liberation Sans", sans-serif' font-size="11" font-weight="normal" fill="#2a2a2a" stroke="#2a2a2a" stroke-width="0.1">SWNT(6,5)pyC60</text>
<text transform="translate(175.8,53.1) scale(0.84,1)" x="0.00 7.85 18.75 27.21 34.44 38.62 45.25 48.82 55.45 59.63 66.26 72.28 80.74 87.37" y="0" font-family='"Liberation Sans", sans-serif' font-size="11" font-weight="normal" fill="#2a2a2a" stroke="#2a2a2a" stroke-width="0.1">SWNT(7,6)pyC60</text>
<text transform="translate(175.8,64.1) scale(0.84,1)" x="0.00 6.51 12.40 20.74 27.25" y="0" font-family='"Liberation Sans", sans-serif' font-size="11" font-weight="normal" fill="#2a2a2a" stroke="#2a2a2a" stroke-width="0.1">pyC60</text>
</svg>
</body></html>
